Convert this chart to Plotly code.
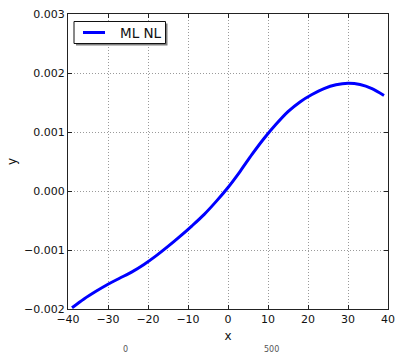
import plotly.graph_objects as go

x_vals = [-39, -36, -33, -30, -27, -24, -21, -18, -15, -12, -9, -6, -3, 0,
          3, 6, 9, 12, 15, 18, 21, 24, 27, 30, 33, 36, 39]
y_vals = [-1.98e-3, -1.83e-3, -1.70e-3, -1.58e-3, -1.475e-3, -1.37e-3, -1.245e-3,
          -1.10e-3, -0.94e-3, -0.77e-3, -0.59e-3, -0.40e-3, -0.18e-3, 0.06e-3,
          0.33e-3, 0.62e-3, 0.89e-3, 1.13e-3, 1.345e-3, 1.51e-3, 1.635e-3, 1.735e-3,
          1.80e-3, 1.826e-3, 1.805e-3, 1.735e-3, 1.62e-3]
x_ticks = [-40, -30, -20, -10, 0, 10, 20, 30, 40]
y_ticks = [-0.002, -0.001, 0.0, 0.001, 0.002, 0.003]
series_name = "ML NL"

FONT = "DejaVu Sans"
W, H = 396, 354
L, R, T, B = 68, 8, 14, 45
pw, ph = W - L - R, H - T - B

def px_to_paper_x(px): return (px - L) / pw
def px_to_paper_y(py): return (H - B - py) / ph

fig = go.Figure()
fig.add_trace(go.Scatter(x=x_vals, y=y_vals, mode="lines", name=series_name, showlegend=False,
                         line=dict(color="#0000ff", width=3, shape="spline", smoothing=0.8)))

axis_common = dict(showline=True, linecolor="#222222", linewidth=1, mirror="allticks",
                   ticks="inside", ticklen=4, tickcolor="#222222",
                   showgrid=True, gridcolor="#9a9a9a", griddash="1px,2px", gridwidth=1,
                   zeroline=False, automargin=False,
                   tickfont=dict(family=FONT, size=11, color="#111111"))

fig.update_xaxes(range=[-40, 40], tickvals=x_ticks,
                 title=dict(text="x", font=dict(family=FONT, size=12, color="#111111"), standoff=6),
                 **axis_common)
fig.update_yaxes(range=[-0.002, 0.003], tickvals=y_ticks, tickformat=".3f",
                 title=dict(text="y", font=dict(family=FONT, size=12, color="#111111"), standoff=4),
                 **axis_common)

# manual legend (box with shadow, line sample, label)
lx0, ly0, lx1, ly1 = 74, 21.5, 165.5, 43.5
fig.add_shape(type="rect", xref="paper", yref="paper",
              x0=px_to_paper_x(lx0 + 2), x1=px_to_paper_x(lx1 + 2),
              y0=px_to_paper_y(ly1 + 2), y1=px_to_paper_y(ly0 + 2),
              fillcolor="#7f7f7f", line=dict(width=0), layer="above")
fig.add_shape(type="rect", xref="paper", yref="paper",
              x0=px_to_paper_x(lx0), x1=px_to_paper_x(lx1),
              y0=px_to_paper_y(ly1), y1=px_to_paper_y(ly0),
              fillcolor="white", line=dict(color="#111111", width=1), layer="above")
fig.add_shape(type="line", xref="paper", yref="paper",
              x0=px_to_paper_x(83), x1=px_to_paper_x(105),
              y0=px_to_paper_y(32.5), y1=px_to_paper_y(32.5),
              line=dict(color="#0000ff", width=3), layer="above")
fig.add_annotation(text=series_name, xref="paper", yref="paper",
                   x=px_to_paper_x(118), y=px_to_paper_y(32.5),
                   xanchor="left", yanchor="middle", showarrow=False,
                   font=dict(family=FONT, size=13.5, color="#111111"))

fig.add_annotation(text="0", xref="paper", yref="paper", x=px_to_paper_x(125), y=px_to_paper_y(343),
                   xanchor="center", yanchor="top", showarrow=False,
                   font=dict(family=FONT, size=8, color="#555555"))
fig.add_annotation(text="500", xref="paper", yref="paper", x=px_to_paper_x(271), y=px_to_paper_y(343),
                   xanchor="center", yanchor="top", showarrow=False,
                   font=dict(family=FONT, size=8, color="#555555"))

fig.update_layout(width=W, height=H, margin=dict(l=L, r=R, t=T, b=B),
                  paper_bgcolor="white", plot_bgcolor="white",
                  showlegend=False,
                  font=dict(family=FONT))

fig.write_html("out.html")
